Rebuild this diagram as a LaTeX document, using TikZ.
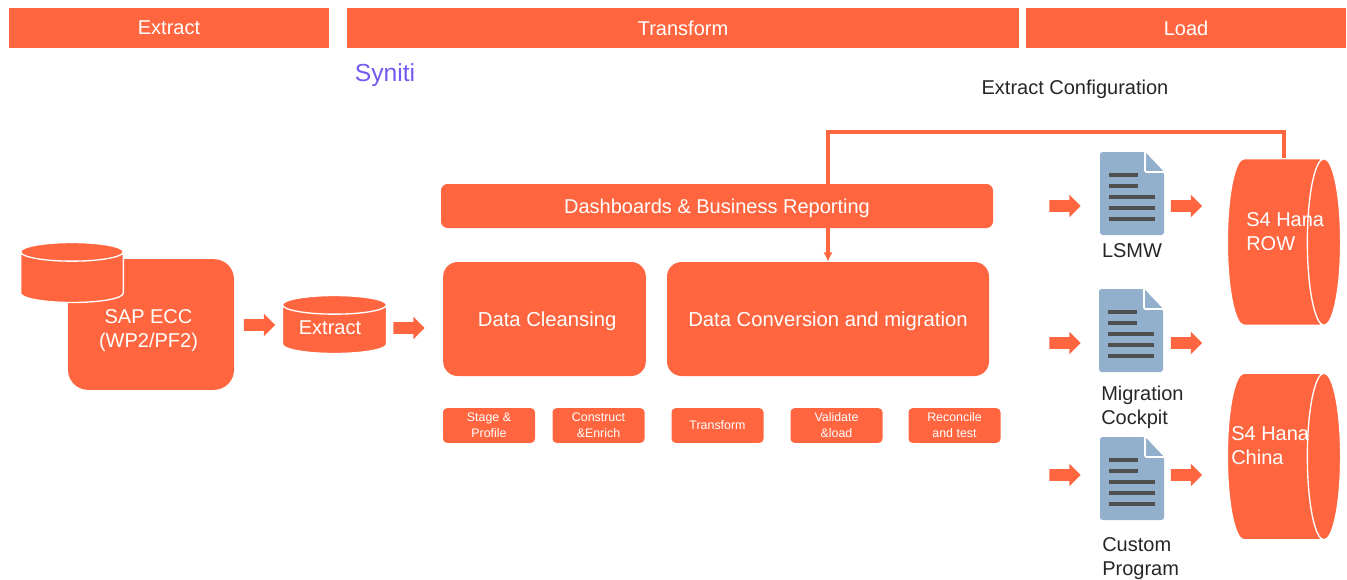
\documentclass[tikz,border=0pt]{standalone}
\usepackage{fontspec}
\setmainfont{Liberation Sans}
\usetikzlibrary{arrows.meta, positioning, shapes.geometric, shapes.arrows}
\definecolor{etlorange}{HTML}{FF6640}
\definecolor{docblue}{HTML}{92AFCB}
\definecolor{docline}{HTML}{505050}
\definecolor{synpurple}{HTML}{7558F0}
\tikzset{
    headbox/.style={fill=etlorange, text=white, minimum height=30pt, font=\fontsize{15}{18}\selectfont},
    bigbox/.style={fill=etlorange, text=white, rounded corners=11pt, minimum height=85.5pt, text height=11pt, text depth=0pt, font=\fontsize{15.2}{18}\selectfont},
    smallbox/.style={fill=etlorange, text=white, rounded corners=3pt, minimum width=69pt, minimum height=26pt, inner sep=0pt, align=center, font=\fontsize{9.3}{12}\selectfont},
    flowarrow/.style={single arrow, fill=etlorange, minimum height=23.5pt, minimum width=16.5pt, single arrow head extend=4pt, single arrow head indent=0pt, inner xsep=0pt, inner ysep=4.2pt},
    dbup/.style={cylinder, shape border rotate=90, aspect=2.1, draw=white, line width=1pt, fill=etlorange, anchor=shape center},
    dbside/.style={cylinder, aspect=3.75, draw=white, line width=1pt, fill=etlorange, minimum width=125pt, minimum height=85pt, anchor=shape center},
    whitetext/.style={text=white, inner sep=0pt, font=\fontsize{15}{18}\selectfont, align=left},
    blacktext/.style={text=black!85, inner sep=0pt, font=\fontsize{15}{18}\selectfont, align=left},
    pics/docicon/.style={code={
        \fill[docblue, rounded corners=2pt] (0,0) -- (45,0) -- (64,20) -- (64,83) -- (0,83) -- cycle;
        \draw[white, line width=1.2pt, fill=docblue, rounded corners=1pt] (45,0) -- (45,20) -- (64,20);
        \draw[docline, line width=3pt] (9,23) -- (38,23);
        \draw[docline, line width=3pt] (9,34) -- (38,34);
        \draw[docline, line width=3pt] (9,45) -- (55,45);
        \draw[docline, line width=3pt] (9,56) -- (55,56);
        \draw[docline, line width=3pt] (9,67) -- (55,67);
    }}
}
\begin{document}
\begin{tikzpicture}[x=0.75pt, y=-0.75pt]
    \useasboundingbox (0,0) rectangle (1347,579);

    \node[headbox, minimum width=240pt] (extracthead) at (169,28) {Extract};
    \node[headbox, minimum width=504pt] (transformhead) at (683,28) {Transform};
    \node[headbox, minimum width=240pt] (loadhead) at (1186,28) {Load};

    \node[text=synpurple, font=\fontsize{18.5}{20}\selectfont, inner sep=0pt] (syniti) at (385,75) {Syniti};
    \node[blacktext] (extractconfig) at (1075,89) {Extract Configuration};

    \node[fill=etlorange, rounded corners=15pt, minimum width=124.5pt, minimum height=98pt] (sapecc) at (151,324.5) {};
    \node[dbup, minimum width=77pt, minimum height=45pt] (sapdb) at (72,272.5) {};
    \node[whitetext, align=center] (saplabel) at (148.5,331) {SAP ECC\\(WP2/PF2)};

    \node[flowarrow] (arrowsap) at (256.5,325) {};
    \node[dbup, minimum width=78pt, minimum height=43.5pt] (extractdb) at (334.5,324.5) {};
    \node[whitetext] (extractlabel) at (330,328) {Extract};
    \node[flowarrow] (arrowextract) at (406,328) {};

    \node[bigbox, minimum width=152pt] (cleansing) at (544.5,319) {\hspace*{4pt}Data Cleansing};
    \node[bigbox, minimum width=241.5pt] (conversion) at (828,319) {Data Conversion and migration};

    \node[smallbox] (stage) at (489,425.5) {Stage \&\\Profile};
    \node[smallbox] (construct) at (598.5,425.5) {Construct\\\&Enrich};
    \node[smallbox] (transformstep) at (717.5,425.5) {Transform};
    \node[smallbox] (validate) at (836.5,425.5) {Validate\\\&load};
    \node[smallbox] (reconcile) at (954.5,425.5) {Reconcile\\and test};

    \node[flowarrow] (inlsmw) at (1062,206) {};
    \node[flowarrow] (incockpit) at (1062,343) {};
    \node[flowarrow] (incustom) at (1062,475) {};
    \pic at (1100,152) {docicon};
    \pic at (1099,289) {docicon};
    \pic at (1100,437) {docicon};
    \node[flowarrow] (outlsmw) at (1183.5,206) {};
    \node[flowarrow] (outcockpit) at (1183.5,343) {};
    \node[flowarrow] (outcustom) at (1183.5,475) {};

    \node[blacktext] (lsmw) at (1132,251) {LSMW};
    \node[blacktext, anchor=north west] (cockpit) at (1101,386) {Migration\\Cockpit};
    \node[blacktext, anchor=north west] (custom) at (1102,537) {Custom\\Program};

    \node[dbside] (s4row) at (1284,242) {};
    \node[dbside] (s4china) at (1284,456.5) {};
    \node[whitetext, anchor=north west] (rowlabel) at (1246,212) {S4 Hana\\ROW};
    \node[whitetext, anchor=north west] (chinalabel) at (1231,426) {S4 Hana\\China};

    \draw[etlorange, line width=2.5pt, -{Latex[length=2.5mm, width=2.5mm]}] (s4row.shape center |- s4row.north) -- ++(0,-26) -| (conversion.north);
    \node[fill=etlorange, text=white, rounded corners=5pt, minimum width=414pt, minimum height=33pt, text height=11pt, text depth=0pt, font=\fontsize{15}{18}\selectfont] (dashboards) at (717,206) {Dashboards \& Business Reporting};
\end{tikzpicture}
\end{document}
